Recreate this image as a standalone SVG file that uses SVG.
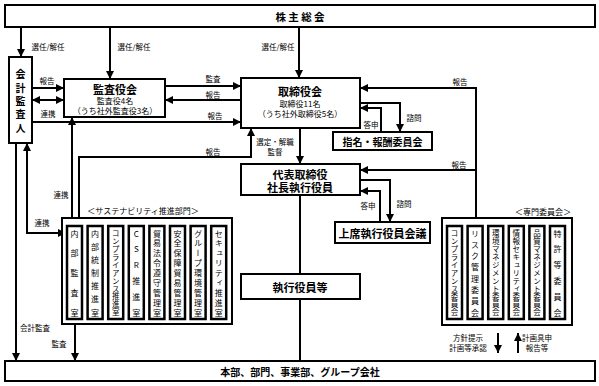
<svg xmlns="http://www.w3.org/2000/svg" width="599" height="386" viewBox="0 0 599 386">
<defs>
<marker id="ah" viewBox="0 0 8 8" refX="8" refY="4" markerWidth="8" markerHeight="8" markerUnits="userSpaceOnUse" orient="auto-start-reverse"><path d="M0,0 L8,4 L0,8 z" fill="#000"/></marker>
<style>
.box{fill:#fff;stroke:#000;stroke-width:2}
.ib{fill:#fff;stroke:#000;stroke-width:2.5}
.ln{fill:none;stroke:#000;stroke-width:2}
.ae{marker-end:url(#ah)}
.as{marker-start:url(#ah)}
text{font-family:"Noto Sans CJK JP","Noto Sans",sans-serif;fill:#000}
.t{font-weight:bold;text-anchor:middle;dominant-baseline:central}
.s{font-size:8px;text-anchor:middle;dominant-baseline:central}
.l{font-size:7.5px;text-anchor:middle;dominant-baseline:central}
.v{font-size:8px;writing-mode:vertical-rl;text-orientation:upright;text-anchor:start}
.v11{font-size:7.5px;letter-spacing:0.4px}
</style>
</defs>

<g id="connectors">
<path class="ln ae" d="M21,27 V57"/>
<path class="ln ae" d="M110,27 V79"/>
<path class="ln ae" d="M299,27 V78"/>
<path class="ln ae" d="M32,88 H64"/>
<path class="ln ae as" d="M32,100 H64"/>
<path class="ln ae" d="M32,122 H241"/>
<path class="ln ae" d="M165,86 H241"/>
<path class="ln ae" d="M241,100 H165"/>
<path class="ln ae" d="M300,128 V164"/>
<path class="ln ae" d="M79,218 V157 H251 V128"/>
<path class="ln ae as" d="M72,117 V225"/>
<path class="ln ae as" d="M27,143 V233 H66"/>
<path class="ln ae" d="M16,143 V361"/>
<path class="ln ae" d="M75,320 V361"/>
<path class="ln ae" d="M360,103 H400 V132"/>
<path class="ln ae" d="M381,132 V108 H360"/>
<path class="ln ae" d="M476,218 V88 H360"/>
<path class="ln ae" d="M476,170 H360"/>
<path class="ln ae" d="M360,180 H390 V222"/>
<path class="ln ae" d="M380,222 V191 H360"/>
<path class="ln" d="M300,195 V274 M300,299 V361"/>
<path class="ln ae" d="M498,333 V353"/>
<path class="ln ae" d="M518,353 V333"/>
<text class="l" x="48" y="46">選任/解任</text>
<text class="l" x="134" y="46">選任/解任</text>
<text class="l" x="278" y="46">選任/解任</text>
<text class="l" x="47" y="80">報告</text>
<text class="l" x="48" y="113">連携</text>
<text class="l" x="213" y="78">監査</text>
<text class="l" x="213" y="94.5">報告</text>
<text class="l" x="215" y="115">報告</text>
<text class="l" x="213" y="151">報告</text>
<text class="l" x="275" y="141.5">選定・解職</text>
<text class="l" x="275" y="151.5">監督</text>
<text class="l" x="61" y="194">連携</text>
<text class="l" x="42" y="222">連携</text>
<text class="l" x="35" y="327">会計監査</text>
<text class="l" x="59" y="343">監査</text>
<text class="l" x="460" y="81">報告</text>
<text class="l" x="371" y="124">答申</text>
<text class="l" x="414" y="117">諮問</text>
<text class="l" x="459" y="164">報告</text>
<text class="l" x="368" y="205">答申</text>
<text class="l" x="404" y="203">諮問</text>
<text class="l" x="468" y="337.5">方針提示</text>
<text class="l" x="468" y="347.5">計画等承認</text>
<text class="l" x="537" y="337.5">計画具申</text>
<text class="l" x="537" y="347.5">報告等</text>
</g>

<g id="shareholders">
<rect class="box" x="5" y="5" width="590" height="22"/>
<text class="t" x="300" y="16" font-size="10.5">株 主 総 会</text>
</g>

<g id="auditor">
<rect class="box" x="9" y="57" width="23" height="86"/>
<text class="t" x="20.5" y="73" font-size="10">会</text>
<text class="t" x="20.5" y="87" font-size="10">計</text>
<text class="t" x="20.5" y="100" font-size="10">監</text>
<text class="t" x="20.5" y="113.5" font-size="10">査</text>
<text class="t" x="20.5" y="127" font-size="10">人</text>
</g>

<g id="audit-board">
<rect class="box" x="64" y="79" width="101" height="38"/>
<text class="t" x="115" y="88.5" font-size="11">監査役会</text>
<text class="s" x="115" y="100">監査役4名</text>
<text class="s" x="115" y="110">（うち社外監査役3名）</text>
</g>

<g id="board">
<rect class="box" x="241" y="78" width="119" height="50"/>
<text class="t" x="300" y="90.5" font-size="11">取締役会</text>
<text class="s" x="300" y="103">取締役11名</text>
<text class="s" x="300" y="113">（うち社外取締役5名）</text>
</g>

<g id="nomination">
<rect class="box" x="333" y="132" width="99" height="18"/>
<text class="t" x="382.5" y="141" font-size="10">指名・報酬委員会</text>
</g>

<g id="president">
<rect class="box" x="241" y="164" width="119" height="31"/>
<text class="t" x="300" y="173.5" font-size="11">代表取締役</text>
<text class="t" x="300" y="187" font-size="11">社長執行役員</text>
</g>

<g id="senior-meeting">
<rect class="box" x="335" y="222" width="95" height="21"/>
<text class="t" x="382.5" y="232.5" font-size="11">上席執行役員会議</text>
</g>

<g id="officers">
<rect class="box" x="241" y="274" width="119" height="25"/>
<text class="t" x="300" y="286.5" font-size="11">執行役員等</text>
</g>

<g id="headquarters">
<rect class="box" x="5" y="361" width="590" height="20"/>
<text class="t" x="300" y="371" font-size="10">本部、部門、事業部、グループ会社</text>
</g>

<g id="sustainability">
<text class="s" x="143" y="210">＜サステナビリティ推進部門＞</text>
<rect class="box" x="62" y="218" width="170" height="106"/>
<rect class="ib" x="67" y="226" width="15" height="93"/>
<rect class="ib" x="87.6" y="226" width="15" height="93"/>
<rect class="ib" x="108.2" y="226" width="15" height="93"/>
<rect class="ib" x="128.8" y="226" width="15" height="93"/>
<rect class="ib" x="149.4" y="226" width="15" height="93"/>
<rect class="ib" x="170" y="226" width="15" height="93"/>
<rect class="ib" x="190.6" y="226" width="15" height="93"/>
<rect class="ib" x="211.2" y="226" width="15" height="93"/>
<text class="v" x="74.5" y="229.5" style="letter-spacing:11.75px">内部監査室</text>
<text class="v" x="95.1" y="229.5" style="letter-spacing:5.17px">内部統制推進室</text>
<text class="v v11" x="115.7" y="229.7">コンプライアンス推進室</text>
<text class="v" x="136.3" y="229.5" style="letter-spacing:7.8px">CSR推進室</text>
<text class="v" x="156.9" y="229.5" style="letter-spacing:1.875px">貿易法令遵守管理室</text>
<text class="v" x="177.5" y="229.5" style="letter-spacing:1.875px">安全保障貿易管理室</text>
<text class="v" x="198.1" y="229.5" style="letter-spacing:1.875px">グループ環境管理室</text>
<text class="v" x="218.7" y="229.5" style="letter-spacing:1.875px">セキュリティ推進室</text>
</g>

<g id="committees">
<text class="s" x="543" y="211">＜専門委員会＞</text>
<rect class="box" x="442" y="218" width="130" height="107"/>
<rect class="ib" x="447" y="226" width="15" height="93"/>
<rect class="ib" x="467.6" y="226" width="15" height="93"/>
<rect class="ib" x="488.2" y="226" width="15" height="93"/>
<rect class="ib" x="508.8" y="226" width="15" height="93"/>
<rect class="ib" x="529.4" y="226" width="15" height="93"/>
<rect class="ib" x="550" y="226" width="15" height="93"/>
<text class="v v11" x="454.5" y="229.7">コンプライアンス委員会</text>
<text class="v" x="475.1" y="229.5" style="letter-spacing:3.29px">リスク管理委員会</text>
<text class="v v11" x="495.7" y="229.7">環境マネジメント委員会</text>
<text class="v v11" x="516.3" y="229.7">情報セキュリティ委員会</text>
<text class="v v11" x="536.9" y="229.7">品質マネジメント委員会</text>
<text class="v" x="557.5" y="229.5" style="letter-spacing:7.8px">特許等委員会</text>
</g>
</svg>
